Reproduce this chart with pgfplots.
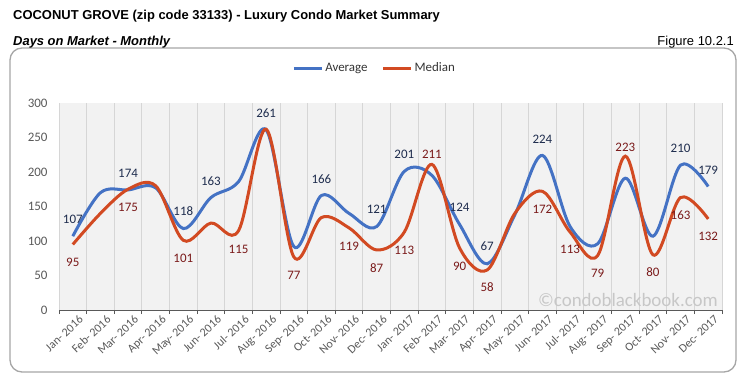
\documentclass[border=0pt]{standalone}
\usepackage{pgfplots}
\pgfplotsset{compat=1.18}
\usepackage{pgfplotstable}
\usepackage{fontspec}
\setmainfont{Carlito}
\newfontfamily\narrowfont{Liberation Sans}
\definecolor{avgblue}{HTML}{4472C4}
\definecolor{medred}{HTML}{D24A22}
\definecolor{avglab}{HTML}{1F2D4E}
\definecolor{medlab}{HTML}{7A1A1A}
\definecolor{ticklab}{HTML}{595959}
\definecolor{plotbg}{HTML}{F2F2F2}
\definecolor{gridc}{HTML}{D6D6D6}
\definecolor{boxc}{HTML}{A6A6A6}

\pgfplotstableread{
x avg med
0 107 95
1 170 140
2 174 175
3 177 180
4 118 101
5 163 126
6 186 115
7 261 262
8 92 77
9 166 134
10 140 119
11 121 87
12 201 113
13 195 211
14 124 90
15 67 58
16 138 140
17 224 172
18 121 113
19 96 79
20 191 223
21 107 80
22 210 163
23 179 132
}\maindata

\pgfplotstableread{
x y dy
0 107 17
2 174 17
4 118 17
5 163 16
7 261 17
9 166 16.5
11 121 17
12 201 17
14 124 17
15 67 18
17 224 16.5
22 210 17
23 179 16.5
}\avglabels

\pgfplotstableread{
x y dy
0 95 -17.5
2 175 -18
4 101 -18
6 115 -18.5
8 77 -18
10 119 -18
11 87 -18
12 113 -18
13 211 10
14 90 -18
15 58 -17
17 172 -17.5
18 113 -17
19 79 -17.5
20 223 9
21 80 -17
22 163 -17.5
23 132 -17
}\medlabels

\begin{document}
\begin{tikzpicture}[x=1bp,y=1bp]
\path[use as bounding box] (0,0) rectangle (746,384);
\draw[rounded corners=12bp, draw=boxc, line width=1.3bp] (10,12) rectangle (736,336);
\begin{axis}[
  at={(59bp,74bp)}, anchor=south west, scale only axis,
  width=663bp, height=207bp,
  xmin=-0.5, xmax=23.5, ymin=0, ymax=300,
  clip=false,
  axis background/.style={fill=plotbg},
  axis x line*=bottom, axis y line*=left,
  y axis line style={draw=none},
  x axis line style={draw=ticklab, line width=0.9bp},
  /pgf/number format/assume math mode=true,
  xtick={0,...,23},
  xticklabels={Jan- 2016,Feb- 2016,Mar- 2016,Apr- 2016,May- 2016,Jun- 2016,Jul- 2016,Aug- 2016,Sep- 2016,Oct- 2016,Nov- 2016,Dec- 2016,Jan- 2017,Feb- 2017,Mar- 2017,Apr- 2017,May- 2017,Jun- 2017,Jul- 2017,Aug- 2017,Sep- 2017,Oct- 2017,Nov- 2017,Dec- 2017},
  minor xtick={-0.5,0.5,...,23.5},
  xminorgrids=true,
  minor grid style={gridc, line width=0.8bp},
  major tick length=0pt,
  minor tick length=4bp,
  tick align=outside,
  minor tick style={draw=ticklab, line width=0.8bp},
  ytick={0,50,...,300},
  yticklabel style={font=\fontsize{13}{13}\selectfont, text=ticklab, anchor=east, xshift=-8bp},
  xticklabel style={rotate=43, anchor=north east, font=\fontsize{12}{12}\selectfont, text=ticklab, inner sep=1bp, yshift=-6bp, xshift=2bp},
  legend style={at={(0.476,1.169)}, anchor=center, draw=none, fill=none,
    legend columns=2, font=\fontsize{13}{13}\selectfont, text=ticklab!60!black,
    /tikz/every even column/.append style={column sep=12bp}},
  legend image code/.code={\draw[#1, line width=3bp] (0bp,0bp) -- (28bp,0bp);},
]
\addplot[avgblue, line width=3bp, smooth, tension=0.55] table[x=x,y=avg]{\maindata};
\addlegendentry{Average}
\addplot[medred, line width=3bp, smooth, tension=0.55] table[x=x,y=med]{\maindata};
\addlegendentry{Median}

\addplot[forget plot, only marks, mark=*, mark size=0pt, mark options={draw=none, fill=none},
  nodes near coords, point meta=explicit,
  visualization depends on={\thisrow{dy} \as \dy},
  nodes near coords style={anchor=center, yshift=\dy bp, text=avglab, font=\fontsize{13}{13}\selectfont, inner sep=0pt}]
  table[x=x, y=y, meta=y]{\avglabels};
\addplot[forget plot, only marks, mark=*, mark size=0pt, mark options={draw=none, fill=none},
  nodes near coords, point meta=explicit,
  visualization depends on={\thisrow{dy} \as \dy},
  nodes near coords style={anchor=center, yshift=\dy bp, text=medlab, font=\fontsize{13}{13}\selectfont, inner sep=0pt}]
  table[x=x, y=y, meta=y]{\medlabels};

\node[anchor=east, inner sep=0pt, text=black!22, font=\fontsize{19}{19}\selectfont] at (rel axis cs:0.994,0.048) {©condoblackbook.com};
\end{axis}
\node[anchor=base west, inner sep=0pt] at (13,364.5) {\narrowfont\bfseries\fontsize{13}{15}\selectfont COCONUT GROVE (zip code 33133) - Luxury Condo Market Summary};
\node[anchor=base west, inner sep=0pt] at (13,339) {\narrowfont\bfseries\itshape\fontsize{13}{15}\selectfont Days on Market - Monthly};
\node[anchor=base east, inner sep=0pt] at (734,339) {\narrowfont\fontsize{13}{15}\selectfont Figure 10.2.1};
\end{tikzpicture}
\end{document}
